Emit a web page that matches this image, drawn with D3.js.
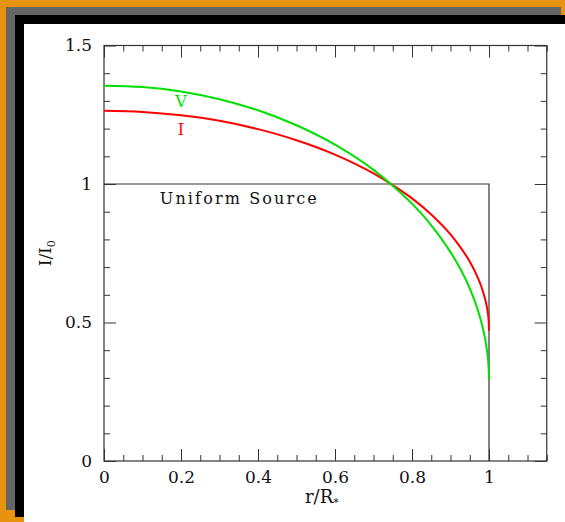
<!DOCTYPE html>
<html>
<head>
<meta charset="utf-8">
<script src="https://cdn.jsdelivr.net/npm/d3@7"></script>
<style>
  html, body { margin: 0; padding: 0; background: #e8930f; }
  svg { display: block; }
  text { font-family: "DejaVu Serif", "Liberation Serif", serif; fill: #111; }
</style>
</head>
<body>
<svg id="chart" width="565" height="522"></svg>
<script>
// Normalised intensity profiles across the stellar disc, r/R* from centre to limb
const radius = [0, 0.1, 0.2, 0.3, 0.4, 0.5, 0.6, 0.7, 0.75, 0.8, 0.85, 0.9, 0.925, 0.95, 0.97, 0.98, 0.99, 0.995, 0.999, 1.0];
const bandV = [1.355, 1.350, 1.334, 1.306, 1.266, 1.212, 1.142, 1.051, 0.994, 0.929, 0.851, 0.754, 0.695, 0.623, 0.549, 0.502, 0.440, 0.396, 0.338, 0.293];
const bandI = [1.264, 1.260, 1.248, 1.228, 1.198, 1.158, 1.106, 1.038, 0.996, 0.948, 0.890, 0.818, 0.773, 0.720, 0.665, 0.630, 0.584, 0.552, 0.508, 0.470];

// Uniform disc for comparison
const uniformR = [0, 1, 1];
const uniformI = [1, 1, 0];

const xMajor = [0, 0.2, 0.4, 0.6, 0.8, 1];
const xMajorLabels = ["0", "0.2", "0.4", "0.6", "0.8", "1"];
const yMajor = [0, 0.5, 1, 1.5];
const yMajorLabels = ["0", "0.5", "1", "1.5"];

const svg = d3.select("#chart");

// Framed panel with stacked shadows
svg.append("rect").attr("x", 6).attr("y", 7).attr("width", 555).attr("height", 503).attr("fill", "#666");
svg.append("rect").attr("x", 15).attr("y", 15).attr("width", 560).attr("height", 502).attr("fill", "#000");
svg.append("rect").attr("x", 24).attr("y", 24).attr("width", 560).attr("height", 510).attr("fill", "#fff");

const plotL = 104, plotR = 546.75, plotT = 45.5, plotB = 461;
const x = d3.scaleLinear().domain([0, 1.15]).range([plotL, plotR]);
const y = d3.scaleLinear().domain([0, 1.5]).range([plotB, plotT]);

const xMinor = d3.range(0, 1.1501, 0.05).map(v => +v.toFixed(2)).filter(v => !xMajor.some(m => Math.abs(m - v) < 1e-9));
const yMinor = d3.range(0, 1.5001, 0.1).map(v => +v.toFixed(2)).filter(v => !yMajor.some(m => Math.abs(m - v) < 1e-9));

const g = svg.append("g");

function styleAxis(sel) {
  sel.select(".domain").remove();
  sel.selectAll(".tick line").attr("stroke", "#333").attr("stroke-width", 1);
  sel.selectAll(".tick text").attr("font-family", "DejaVu Serif, serif").attr("font-size", 17).attr("fill", "#111");
}

// Bottom axis (labelled)
g.append("g").attr("transform", `translate(0,${plotB})`)
  .call(d3.axisBottom(x).tickValues(xMajor).tickSize(-12).tickPadding(10)
    .tickFormat((d, i) => xMajorLabels[i]))
  .call(styleAxis);
g.append("g").attr("transform", `translate(0,${plotB})`)
  .call(d3.axisBottom(x).tickValues(xMinor).tickSize(-6).tickFormat(""))
  .call(styleAxis);
// Top axis
g.append("g").attr("transform", `translate(0,${plotT})`)
  .call(d3.axisTop(x).tickValues(xMajor).tickSize(-12).tickFormat(""))
  .call(styleAxis);
g.append("g").attr("transform", `translate(0,${plotT})`)
  .call(d3.axisTop(x).tickValues(xMinor).tickSize(-6).tickFormat(""))
  .call(styleAxis);
// Left axis (labelled)
g.append("g").attr("transform", `translate(${plotL},0)`)
  .call(d3.axisLeft(y).tickValues(yMajor).tickSize(-12).tickPadding(12)
    .tickFormat((d, i) => yMajorLabels[i]))
  .call(styleAxis);
g.append("g").attr("transform", `translate(${plotL},0)`)
  .call(d3.axisLeft(y).tickValues(yMinor).tickSize(-6).tickFormat(""))
  .call(styleAxis);
// Right axis
g.append("g").attr("transform", `translate(${plotR},0)`)
  .call(d3.axisRight(y).tickValues(yMajor).tickSize(-12).tickFormat(""))
  .call(styleAxis);
g.append("g").attr("transform", `translate(${plotR},0)`)
  .call(d3.axisRight(y).tickValues(yMinor).tickSize(-6).tickFormat(""))
  .call(styleAxis);

// Plot frame
g.append("rect")
  .attr("x", plotL).attr("y", plotT)
  .attr("width", plotR - plotL).attr("height", plotB - plotT)
  .attr("fill", "none").attr("stroke", "#333").attr("stroke-width", 1.2);

// Uniform source step
const stepLine = d3.line().x(d => x(d[0])).y(d => y(d[1]));
g.append("path")
  .datum(uniformR.map((r, i) => [r, uniformI[i]]))
  .attr("d", stepLine)
  .attr("fill", "none").attr("stroke", "#333").attr("stroke-width", 1.2);

// Limb-darkened profiles
const curve = d3.line().x(d => x(d[0])).y(d => y(d[1])).curve(d3.curveMonotoneX);
g.append("path")
  .datum(radius.map((r, i) => [r, bandI[i]]))
  .attr("d", curve)
  .attr("fill", "none").attr("stroke", "#ff0000").attr("stroke-width", 2);
g.append("path")
  .datum(radius.map((r, i) => [r, bandV[i]]))
  .attr("d", curve)
  .attr("fill", "none").attr("stroke", "#00e000").attr("stroke-width", 2);

// Curve labels
g.append("text").attr("x", x(0.2)).attr("y", y(1.278)).attr("text-anchor", "middle")
  .attr("font-size", 16).style("fill", "#00e000").text("V");
g.append("text").attr("x", x(0.2)).attr("y", y(1.177)).attr("text-anchor", "middle")
  .attr("font-size", 16).style("fill", "#ff0000").text("I");
g.append("text").attr("x", x(0.145)).attr("y", y(0.928))
  .attr("font-size", 16).attr("textLength", 157).attr("lengthAdjust", "spacing")
  .text("Uniform Source");

// Axis titles
const xt = g.append("text").attr("x", 305).attr("y", 503).attr("font-size", 18);
xt.append("tspan").text("r/R");
xt.append("tspan").attr("font-size", 11).attr("dy", 3).text("*");

const yt = g.append("text")
  .attr("transform", `translate(51,${(plotT + plotB) / 2}) rotate(-90)`)
  .attr("text-anchor", "middle").attr("font-size", 17);
yt.append("tspan").text("I/I");
yt.append("tspan").attr("font-size", 11).attr("dy", 4).text("0");
</script>
</body>
</html>
